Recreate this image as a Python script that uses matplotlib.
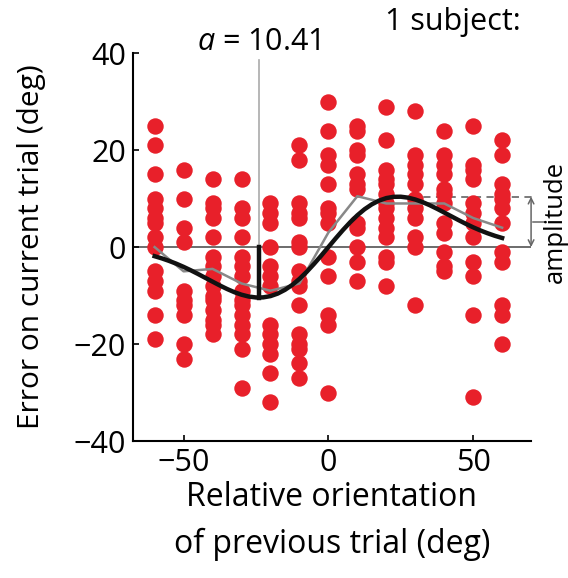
import numpy as np
import matplotlib.pyplot as plt

plt.rcParams['font.family'] = ['Open Sans', 'DejaVu Sans']
plt.rcParams['mathtext.fontset'] = 'custom'
plt.rcParams['mathtext.it'] = 'Open Sans:italic'
plt.rcParams['mathtext.rm'] = 'Open Sans'

# errors for each relative orientation (deg)
orientations = [-60, -50, -40, -30, -20, -10, 0, 10, 20, 30, 40, 50, 60]
errors = [
    [25, 21, 15, 10, 8, 6, 5, 2, 0, -5, -7, -9, -14, -19],
    [16, 10, 4, 1, -9, -11, -12, -14, -20, -23],
    [14, 9, 8, 6, 2, -2, -4, -6, -8, -10, -11, -13, -15, -16, -18],
    [14, 8, 6, 2, -2, -4, -6, -9, -11, -12, -14, -16, -18, -21, -29],
    [9, 7, 5, 0, -4, -6, -8, -16, -18, -20, -22, -26, -32],
    [21, 18, 9, 7, 6, 1, 0, -5, -7, -8, -12, -18, -20, -21, -24, -27],
    [30, 24, 19, 17, 13, 8, 7, 5, -2, -6, -14, -16, -30],
    [25, 24, 20, 19, 15, 13, 12, 5, 4, 0, -3, -7],
    [29, 22, 16, 14, 13, 11, 9, 8, 6, 4, 2, -2, -3, -8],
    [28, 19, 17, 15, 13, 10, 8, 6, 2, 0, -12],
    [24, 19, 17, 15, 12, 11, 9, 5, 3, -1, -4, -5],
    [25, 17, 16, 14, 9, 7, 5, 2, -3, -6, -14, -31],
    [22, 19, 13, 11, 10, 8, 5, -1, -3, -12, -14, -20],
]

# binned mean (gray line)
mean_err = [0, -5, -4.5, -7.5, -9, -7.5, 3, 10.5, 9, 9, 9, 6, 4]

# fitted curve (black line), sampled every 2.5 deg
fit_x = [-60, -57.5, -55, -52.5, -50, -47.5, -45, -42.5, -40, -37.5, -35, -32.5,
         -30, -27.5, -25, -22.5, -20, -17.5, -15, -12.5, -10, -7.5, -5, -2.5,
         0, 2.5, 5, 7.5, 10, 12.5, 15, 17.5, 20, 22.5, 25, 27.5, 30, 32.5,
         35, 37.5, 40, 42.5, 45, 47.5, 50, 52.5, 55, 57.5, 60]
fit_y = [-1.88, -2.33, -2.85, -3.43, -4.08, -4.79, -5.55, -6.34, -7.13, -7.91,
         -8.64, -9.29, -9.82, -10.20, -10.39, -10.37, -10.11, -9.59, -8.82,
         -7.81, -6.56, -5.11, -3.50, -1.78,
         0, 1.78, 3.50, 5.11, 6.56, 7.81, 8.82, 9.59, 10.11, 10.37, 10.39,
         10.20, 9.82, 9.29, 8.64, 7.91, 7.13, 6.34, 5.55, 4.79, 4.08, 3.43,
         2.85, 2.33, 1.88]

amplitude = 10.41
peak_x = 24

fig = plt.figure(figsize=(5.68, 5.78), dpi=100)
ax = fig.add_axes([0.234, 0.237, 0.701, 0.671])

for xo, ys in zip(orientations, errors):
    ax.scatter([xo] * len(ys), ys, s=140, color='#e8202a', linewidths=0, zorder=2)

ax.plot([-68, 70], [0, 0], color='#606060', lw=1.3, zorder=1)
ax.plot([peak_x, 71.5], [amplitude, amplitude], color='#707070', lw=1.3,
        ls=(0, (4, 3)), zorder=1, clip_on=False)
ax.plot([-peak_x, -peak_x], [0, 38.5], color='#aaaaaa', lw=1.2, zorder=1)

ax.plot(orientations, mean_err, color='#888888', lw=1.8, zorder=3)
ax.plot(fit_x, fit_y, color='#111111', lw=3.2, zorder=4)
ax.plot([-peak_x, -peak_x], [-amplitude, 0], color='#111111', lw=3.2, zorder=4)

# amplitude bracket
ax.annotate('', xy=(70, amplitude), xytext=(70, 0), annotation_clip=False,
            arrowprops=dict(arrowstyle='<->', color='#666666', lw=1.1,
                            shrinkA=0, shrinkB=0, mutation_scale=10))
ax.plot([70.5, 74.5], [amplitude / 2, amplitude / 2], color='#666666', lw=1.1,
        clip_on=False)
ax.text(78.5, amplitude / 2, 'amplitude', rotation=90, ha='center',
        va='center', fontsize=18.5, clip_on=False)

ax.text(-peak_x, 40.6, '$a$ = 10.41', ha='center', va='baseline', fontsize=22)
fig.text(0.678, 0.948, '1 subject:', fontsize=22, va='baseline')

ax.set_xlim(-67.5, 70)
ax.set_ylim(-40, 40)
ax.set_xticks([-50, 0, 50])
ax.set_yticks([-40, -20, 0, 20, 40])
ax.set_xticklabels(['\u221250', '0', '50'])
ax.set_yticklabels(['\u221240', '\u221220', '0', '20', '40'])
ax.tick_params(direction='in', length=4, width=1.2, labelsize=22, pad=5)
ax.spines['top'].set_visible(False)
ax.spines['right'].set_visible(False)
ax.spines['left'].set_linewidth(1.5)
ax.spines['bottom'].set_linewidth(1.5)

ax.set_xlabel('Relative orientation\nof previous trial (deg)', fontsize=23,
              linespacing=1.55, labelpad=2)
ax.set_ylabel('Error on current trial (deg)', fontsize=21.5, labelpad=20)

fig.savefig('out.png', dpi=100)
